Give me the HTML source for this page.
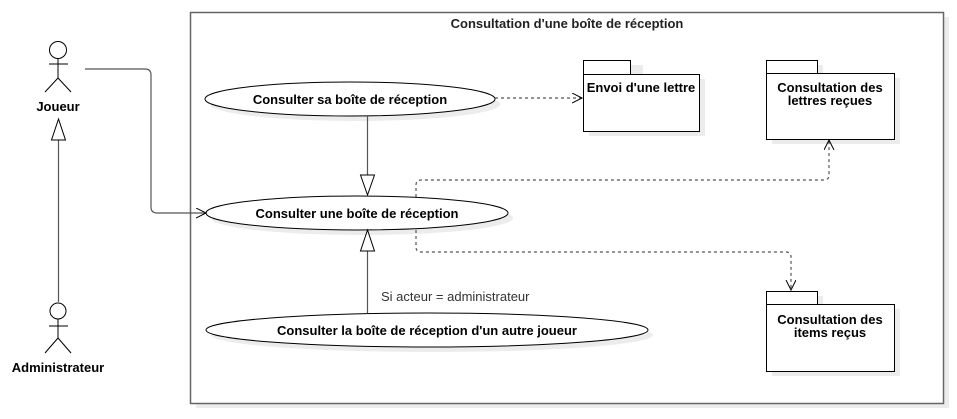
<!DOCTYPE html>
<html><head><meta charset="utf-8"><style>
html,body{margin:0;padding:0;background:#fff;}
svg{display:block;font-family:"Liberation Sans",sans-serif;}
</style></head><body>
<svg width="957" height="419" viewBox="0 0 957 419" xmlns="http://www.w3.org/2000/svg">
<defs>
<marker id="open" markerWidth="12" markerHeight="12" refX="10" refY="5" orient="auto" markerUnits="userSpaceOnUse">
<path d="M0,0 L10,5 L0,10" fill="none" stroke="#000" stroke-width="1"/>
</marker>
</defs>
<rect x="196" y="17" width="753" height="391" fill="#ececec"/>
<rect x="190.5" y="12.5" width="753" height="391" fill="#fff" stroke="#666" stroke-width="1.5"/>
<text x="567" y="28" font-size="13" font-weight="bold" text-anchor="middle" fill="#222">Consultation d'une boîte de réception</text>

<ellipse cx="355" cy="104" rx="145" ry="17" fill="#ececec"/>
<ellipse cx="362" cy="218" rx="151" ry="17" fill="#ececec"/>
<ellipse cx="432" cy="335" rx="221" ry="17" fill="#ececec"/>
<rect x="589" y="65" width="54" height="14" fill="#ececec"/><rect x="589" y="79" width="116" height="57" fill="#ececec"/>
<rect x="772" y="65" width="51" height="13" fill="#ececec"/><rect x="772" y="78" width="128" height="66" fill="#ececec"/>
<rect x="772" y="296" width="51" height="13" fill="#ececec"/><rect x="772" y="309" width="128" height="67" fill="#ececec"/>

<ellipse cx="350" cy="99" rx="145" ry="17" fill="#fff" stroke="#000"/>
<text x="350" y="104" font-size="13" font-weight="bold" text-anchor="middle">Consulter sa boîte de réception</text>
<ellipse cx="357" cy="213" rx="151" ry="17" fill="#fff" stroke="#000"/>
<text x="357" y="218" font-size="13" font-weight="bold" text-anchor="middle">Consulter une boîte de réception</text>
<ellipse cx="427" cy="330" rx="221" ry="17" fill="#fff" stroke="#000"/>
<text x="427" y="335" font-size="13" font-weight="bold" text-anchor="middle">Consulter la boîte de réception d'un autre joueur</text>

<rect x="583.5" y="60.5" width="47" height="14" fill="#fff" stroke="#000"/>
<rect x="583.5" y="74.5" width="116" height="57" fill="#fff" stroke="#000"/>
<text x="641" y="92" font-size="13" font-weight="bold" text-anchor="middle">Envoi d'une lettre</text>
<rect x="766.5" y="60.5" width="51" height="13" fill="#fff" stroke="#000"/>
<rect x="766.5" y="73.5" width="128" height="66" fill="#fff" stroke="#000"/>
<text x="830" y="92" font-size="13" font-weight="bold" text-anchor="middle">Consultation des</text>
<text x="830" y="105" font-size="13" font-weight="bold" text-anchor="middle">lettres reçues</text>
<rect x="766.5" y="291.5" width="51" height="13" fill="#fff" stroke="#000"/>
<rect x="766.5" y="304.5" width="128" height="67" fill="#fff" stroke="#000"/>
<text x="830" y="324" font-size="13" font-weight="bold" text-anchor="middle">Consultation des</text>
<text x="830" y="337" font-size="13" font-weight="bold" text-anchor="middle">items reçus</text>

<g stroke="#000" fill="none">
<circle cx="58" cy="50" r="8.5" fill="#fff"/>
<line x1="58" y1="58.5" x2="58" y2="78"/><line x1="49" y1="64" x2="68" y2="64"/>
<line x1="58" y1="78" x2="45" y2="92"/><line x1="58" y1="78" x2="71" y2="92"/>
<circle cx="58" cy="311" r="8" fill="#fff"/>
<line x1="58" y1="319" x2="58" y2="338"/><line x1="49" y1="326" x2="68" y2="326"/>
<line x1="58" y1="338" x2="45" y2="353"/><line x1="58" y1="338" x2="71" y2="353"/>
</g>
<text x="58" y="111" font-size="13" font-weight="bold" text-anchor="middle">Joueur</text>
<text x="58" y="372" font-size="13" font-weight="bold" text-anchor="middle">Administrateur</text>

<line x1="58.5" y1="140" x2="58.5" y2="302" stroke="#555" stroke-width="1.2"/>
<path d="M58.5,119 L51.5,140 L65.5,140 Z" fill="#fff" stroke="#000"/>

<path d="M85,69 L145,69 Q151,69 151,75 L151,207 Q151,213 157,213 L206,213" fill="none" stroke="#555" stroke-width="1.2" marker-end="url(#open)"/>

<line x1="367.5" y1="116" x2="367.5" y2="175" stroke="#555" stroke-width="1.2"/>
<path d="M367.5,195 L360.5,175 L374.5,175 Z" fill="#fff" stroke="#000"/>
<line x1="367.5" y1="251" x2="367.5" y2="313" stroke="#555" stroke-width="1.2"/>
<path d="M367.5,230 L360.5,251 L374.5,251 Z" fill="#fff" stroke="#000"/>
<text x="381" y="301" font-size="13" fill="#333">Si acteur = administrateur</text>

<g fill="none" stroke="#555" stroke-width="1.2" stroke-dasharray="3,3">
<path d="M495,98 L582,98" marker-end="url(#open)"/>
<path d="M416,197 L416,185 Q416,180 421,180 L824,180 Q829,180 829,175 L829,140" marker-end="url(#open)"/>
<path d="M416,230 L416,247 Q416,252 421,252 L786,252 Q791,252 791,257 L791,290" marker-end="url(#open)"/>
</g>
</svg>
</body></html>
